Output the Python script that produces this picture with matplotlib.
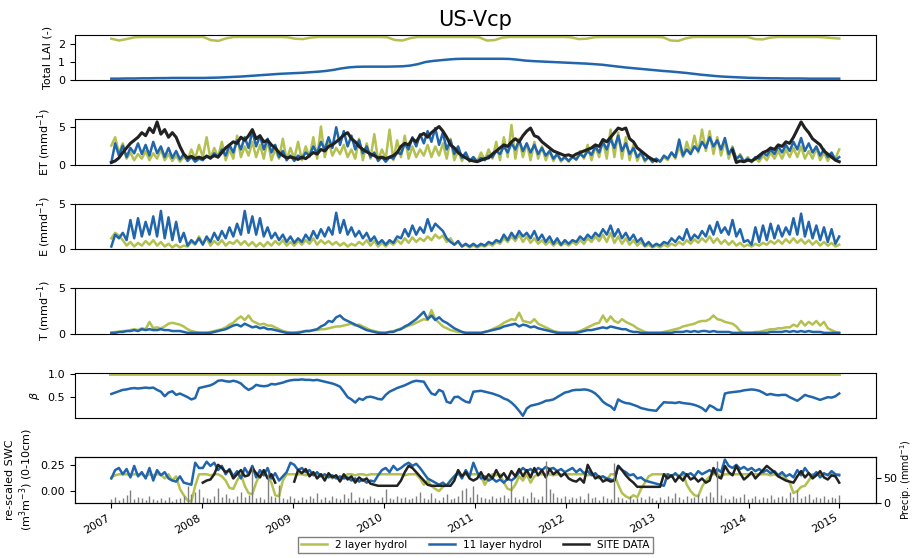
import numpy as np
import pandas as pd
import matplotlib
matplotlib.use("Agg")
import matplotlib.pyplot as plt
import matplotlib.dates as mdates

nan = np.nan

# monthly LAI, Jan 2007 - Dec 2014
lai_2layer = [
    2.32, 2.22, 2.30, 2.40, 2.42, 2.42, 2.42, 2.42, 2.42, 2.42, 2.42, 2.42,
    2.42, 2.24, 2.20, 2.34, 2.42, 2.42, 2.42, 2.42, 2.42, 2.42, 2.42, 2.40,
    2.32, 2.30, 2.38, 2.42, 2.42, 2.42, 2.42, 2.42, 2.42, 2.42, 2.42, 2.42,
    2.40, 2.25, 2.22, 2.35, 2.42, 2.42, 2.42, 2.42, 2.42, 2.42, 2.42, 2.42,
    2.40, 2.22, 2.24, 2.38, 2.42, 2.42, 2.42, 2.42, 2.42, 2.42, 2.42, 2.42,
    2.40, 2.30, 2.32, 2.40, 2.42, 2.42, 2.42, 2.42, 2.42, 2.42, 2.42, 2.42,
    2.40, 2.22, 2.20, 2.34, 2.42, 2.42, 2.42, 2.42, 2.42, 2.42, 2.42, 2.42,
    2.30, 2.28, 2.38, 2.42, 2.42, 2.42, 2.42, 2.42, 2.42, 2.40, 2.36, 2.33,
]
lai_11layer = [
    0.09, 0.09, 0.10, 0.10, 0.11, 0.11, 0.12, 0.12, 0.13, 0.13, 0.13, 0.13,
    0.13, 0.14, 0.15, 0.17, 0.19, 0.21, 0.24, 0.27, 0.30, 0.33, 0.36, 0.38,
    0.40, 0.42, 0.45, 0.48, 0.52, 0.58, 0.66, 0.72, 0.75, 0.76, 0.76, 0.76,
    0.76, 0.77, 0.78, 0.82, 0.90, 1.02, 1.08, 1.12, 1.16, 1.19, 1.20, 1.20,
    1.20, 1.20, 1.20, 1.20, 1.19, 1.15, 1.10, 1.07, 1.05, 1.03, 1.01, 0.99,
    0.97, 0.95, 0.93, 0.90, 0.87, 0.82, 0.77, 0.72, 0.68, 0.64, 0.60, 0.56,
    0.52, 0.49, 0.45, 0.41, 0.36, 0.31, 0.27, 0.23, 0.20, 0.18, 0.16, 0.14,
    0.13, 0.12, 0.11, 0.11, 0.10, 0.10, 0.10, 0.09, 0.09, 0.09, 0.09, 0.09,
]

# half-monthly values, 2007 - 2014 (24 per year)
et_2layer = [
    2.5, 3.6, 1.5, 2.8, 0.8, 1.6, 0.6, 1.4, 0.8, 1.8, 0.6, 1.5, 0.8, 2.0, 0.6, 1.4, 0.5, 1.2, 0.4, 1.0, 0.6, 2.0, 0.8, 2.6,
    1.0, 3.6, 0.8, 2.2, 1.0, 3.0, 0.6, 2.0, 0.8, 3.8, 1.0, 2.4, 1.2, 3.0, 1.0, 2.6, 0.8, 3.2, 0.6, 2.0, 0.8, 3.4, 0.6, 2.2,
    0.8, 3.0, 0.6, 2.4, 1.0, 3.6, 0.8, 5.0, 1.0, 3.0, 1.2, 2.2, 1.4, 2.6, 1.0, 2.0, 0.8, 3.4, 0.6, 2.8, 0.8, 4.0, 0.6, 2.0,
    0.8, 4.6, 0.6, 3.2, 1.0, 3.8, 0.8, 2.4, 1.0, 2.0, 1.2, 2.6, 1.0, 2.4, 1.2, 2.8, 0.8, 3.4, 0.6, 1.8, 0.5, 1.4, 0.4, 1.0,
    0.4, 1.6, 0.6, 2.0, 0.8, 3.0, 0.6, 3.6, 1.0, 5.2, 0.8, 3.4, 1.0, 2.8, 0.6, 3.0, 0.8, 2.4, 0.6, 1.8, 0.5, 1.4, 0.4, 1.0,
    0.4, 1.2, 0.6, 1.8, 0.8, 2.6, 0.6, 2.4, 1.0, 3.2, 0.8, 4.6, 1.0, 4.2, 0.8, 3.6, 0.6, 2.6, 0.5, 1.6, 0.4, 1.0, 0.3, 0.8,
    0.4, 1.0, 0.6, 1.6, 0.8, 2.4, 1.0, 3.0, 1.4, 3.8, 1.6, 4.6, 1.8, 4.4, 1.4, 3.6, 1.2, 3.2, 0.8, 2.4, 0.5, 1.4, 0.4, 1.0,
    0.3, 0.8, 0.4, 1.2, 0.6, 1.6, 0.8, 1.8, 0.8, 2.0, 1.0, 2.2, 1.0, 2.4, 0.8, 1.8, 0.8, 2.2, 0.6, 1.6, 0.5, 1.4, 0.8, 2.0,
]
et_11layer = [
    0.3, 2.8, 1.2, 2.5, 1.0, 2.2, 1.5, 2.8, 1.4, 2.6, 1.2, 3.0, 1.5, 2.4, 1.0, 2.2, 0.9, 1.8, 0.7, 1.4, 0.5, 1.0, 0.4, 0.8,
    0.6, 1.2, 0.8, 1.5, 1.0, 2.0, 1.2, 2.6, 1.6, 3.2, 2.0, 3.6, 2.2, 4.4, 2.4, 3.8, 2.0, 3.4, 1.6, 2.6, 1.0, 1.8, 0.6, 1.2,
    0.5, 1.2, 0.8, 1.6, 1.2, 2.4, 1.5, 3.0, 2.0, 3.6, 2.2, 4.9, 2.6, 4.4, 2.4, 3.8, 2.0, 3.2, 1.5, 2.4, 1.0, 1.6, 0.5, 1.0,
    0.4, 1.0, 0.8, 1.6, 1.4, 2.8, 2.0, 3.6, 2.4, 4.0, 2.8, 4.4, 3.0, 4.8, 2.6, 4.2, 2.0, 3.2, 1.4, 2.4, 0.9, 1.6, 0.5, 1.0,
    0.4, 0.9, 0.6, 1.2, 1.0, 1.8, 1.4, 2.4, 1.6, 2.8, 2.0, 3.2, 1.8, 2.8, 1.6, 2.6, 1.4, 2.2, 1.2, 1.8, 0.8, 1.4, 0.6, 1.0,
    0.5, 1.0, 0.7, 1.4, 1.0, 1.8, 1.3, 2.4, 1.6, 3.0, 2.0, 3.4, 2.2, 3.8, 1.8, 2.8, 1.4, 2.2, 1.0, 1.6, 0.6, 1.0, 0.4, 0.8,
    0.4, 1.2, 0.8, 1.6, 1.0, 3.3, 1.2, 2.0, 1.4, 2.4, 1.8, 3.0, 2.2, 3.6, 2.4, 3.2, 2.0, 3.5, 1.4, 2.2, 0.8, 1.2, 0.4, 0.8,
    0.4, 1.0, 0.8, 1.6, 1.2, 2.0, 1.4, 2.4, 1.6, 2.6, 1.8, 3.0, 2.0, 3.5, 1.8, 2.8, 1.6, 2.4, 1.2, 2.0, 1.0, 1.6, 0.6, 1.0,
]
et_site = [
    0.3, 0.5, 0.9, 1.6, 2.2, 2.8, 3.2, 3.6, 4.2, 3.8, 4.8, 4.2, 5.6, 4.0, 4.6, 3.6, 4.2, 3.6, 2.4, 1.4, 0.9, 1.1, 0.8, 1.0,
    0.8, 1.1, 0.9, 1.2, 1.0, 1.6, 2.2, 2.6, 3.0, 2.8, 3.6, 3.2, 3.8, 4.6, 3.4, 3.8, 3.0, 3.2, 2.6, 2.2, 1.6, 1.2, 0.9, 1.0,
    0.9, 0.7, 1.0, 0.8, 1.2, 1.6, 1.4, 2.0, 1.8, 2.4, 2.6, 3.0, 3.4, 3.9, 4.2, 3.4, 3.0, 2.4, 2.0, 1.7, 1.4, 1.2, 0.9, 1.0,
    0.8, 1.0, 1.2, 1.6, 2.4, 2.8, 2.6, 3.4, 3.0, 3.8, 4.1, 3.6, 4.2, 4.6, 5.0, 4.4, 3.6, 2.6, 2.2, 1.6, 1.2, 0.9, 0.6, 0.5,
    0.4, 0.6, 0.8, 0.9, 1.4, 1.8, 2.2, 2.6, 2.4, 3.0, 3.4, 3.0, 3.8, 4.4, 4.8, 3.8, 3.6, 3.0, 2.6, 2.2, 1.8, 1.6, 1.4, 1.2,
    1.3, 1.1, 1.4, 1.6, 1.8, 2.0, 2.2, 2.6, 2.4, 3.3, 3.0, 3.6, 4.2, 4.8, 4.6, 4.8, 3.4, 3.0, 2.2, 1.8, 1.4, 1.0, 0.7, 0.5,
    nan, nan, nan, nan, nan, nan, nan, nan, nan, nan, nan, nan, nan, nan, nan, nan, nan, nan, nan, 1.9, 0.3, 0.5, 0.4, 0.6,
    0.5, 0.8, 1.2, 1.6, 1.8, 2.2, 2.0, 2.6, 2.4, 3.0, 2.8, 3.6, 4.6, 5.6, 4.8, 4.2, 3.4, 3.0, 2.6, 1.8, 1.4, 1.0, 0.6, 0.4,
]
e_2layer = [
    1.2, 1.8, 1.5, 1.0, 0.4, 0.8, 0.3, 0.7, 0.4, 0.9, 0.5, 1.0, 0.4, 0.8, 0.3, 0.6, 0.2, 0.5, 0.2, 0.4, 0.3, 0.8, 0.5, 1.4,
    0.6, 1.2, 0.4, 0.9, 0.5, 1.0, 0.4, 0.8, 0.6, 1.0, 0.5, 0.9, 0.4, 0.8, 0.3, 0.7, 0.3, 0.8, 0.4, 0.9, 0.5, 1.0, 0.4, 0.8,
    0.4, 0.9, 0.5, 1.0, 0.6, 1.2, 0.5, 1.0, 0.6, 0.9, 0.5, 0.8, 0.4, 0.7, 0.3, 0.6, 0.4, 0.8, 0.5, 1.0, 0.4, 0.9, 0.3, 0.7,
    0.3, 0.8, 0.5, 1.0, 0.6, 1.2, 0.7, 1.3, 0.8, 1.2, 0.9, 1.4, 1.0, 1.6, 1.2, 1.5, 0.8, 1.2, 0.5, 0.8, 0.3, 0.5, 0.2, 0.4,
    0.2, 0.4, 0.3, 0.6, 0.4, 0.8, 0.6, 1.2, 0.8, 1.4, 0.9, 1.6, 0.8, 1.4, 0.7, 1.2, 0.6, 1.0, 0.5, 0.9, 0.4, 0.8, 0.4, 0.7,
    0.4, 0.8, 0.5, 1.0, 0.6, 1.2, 0.8, 1.4, 0.9, 1.6, 0.8, 1.8, 0.7, 1.4, 0.6, 1.2, 0.5, 1.0, 0.4, 0.8, 0.3, 0.5, 0.2, 0.4,
    0.2, 0.5, 0.3, 0.6, 0.4, 0.8, 0.5, 1.0, 0.6, 1.1, 0.7, 1.2, 0.8, 1.4, 0.7, 1.2, 0.6, 1.0, 0.5, 0.9, 0.4, 0.7, 0.3, 0.5,
    0.3, 0.6, 0.4, 0.7, 0.5, 0.9, 0.6, 1.0, 0.6, 1.1, 0.7, 1.2, 0.7, 1.1, 0.6, 1.0, 0.5, 0.9, 0.4, 0.8, 0.4, 0.7, 0.3, 0.5,
]
e_11layer = [
    0.3, 1.6, 1.2, 1.8, 1.0, 3.2, 1.2, 3.4, 1.4, 3.0, 1.6, 3.6, 1.4, 4.2, 1.2, 3.5, 1.0, 3.0, 0.8, 1.8, 0.4, 1.0, 0.6, 1.2,
    0.5, 1.4, 0.8, 1.8, 1.0, 2.0, 1.2, 2.4, 1.4, 2.8, 1.6, 4.2, 1.8, 3.6, 1.6, 3.4, 1.4, 2.4, 1.2, 1.8, 1.0, 1.6, 0.8, 1.4,
    0.7, 1.2, 0.8, 1.6, 1.0, 2.0, 1.2, 2.2, 1.4, 2.4, 1.6, 4.0, 1.8, 3.2, 1.6, 2.4, 1.4, 2.0, 1.2, 1.8, 0.9, 1.4, 0.6, 1.0,
    0.5, 1.0, 0.7, 1.4, 1.2, 2.2, 1.4, 2.6, 1.6, 2.4, 1.8, 3.3, 2.0, 2.8, 2.4, 2.0, 1.2, 0.8, 0.5, 0.9, 0.3, 0.6, 0.3, 0.6,
    0.3, 0.6, 0.4, 0.8, 0.6, 1.0, 0.8, 1.6, 1.0, 1.8, 1.2, 2.0, 1.4, 1.8, 1.2, 2.0, 1.0, 1.6, 0.8, 1.4, 0.6, 1.2, 0.5, 1.0,
    0.6, 1.0, 0.8, 1.4, 1.0, 1.6, 1.2, 1.8, 1.4, 2.2, 1.6, 2.6, 1.4, 2.2, 1.2, 1.8, 1.0, 1.6, 0.8, 1.2, 0.4, 0.8, 0.3, 0.6,
    0.4, 0.8, 0.6, 1.2, 0.8, 1.4, 1.0, 2.2, 1.0, 1.6, 1.2, 2.0, 1.4, 2.6, 1.6, 3.0, 1.8, 2.4, 1.6, 3.2, 1.4, 2.2, 0.8, 1.0,
    0.5, 2.4, 0.8, 2.6, 1.0, 2.8, 1.2, 2.6, 1.4, 2.4, 1.6, 3.4, 1.6, 3.9, 1.4, 3.0, 1.2, 2.6, 1.0, 2.4, 0.8, 2.2, 0.6, 1.4,
]
t_2layer = [
    0.1, 0.2, 0.2, 0.3, 0.3, 0.4, 0.5, 0.4, 0.6, 0.5, 1.3, 0.6, 0.7, 0.6, 0.8, 1.1, 1.2, 1.1, 1.0, 0.8, 0.5, 0.3, 0.2, 0.1,
    0.1, 0.1, 0.2, 0.3, 0.4, 0.5, 0.7, 1.0, 1.2, 1.6, 1.9, 1.5, 2.0, 1.4, 1.2, 1.0, 1.1, 0.9, 0.9, 0.7, 0.5, 0.3, 0.2, 0.1,
    0.1, 0.2, 0.2, 0.3, 0.3, 0.4, 0.4, 0.5, 0.5, 0.6, 0.7, 0.8, 0.8, 0.9, 1.0, 1.1, 0.9, 1.0, 0.8, 0.6, 0.4, 0.3, 0.2, 0.1,
    0.1, 0.2, 0.3, 0.4, 0.6, 0.7, 0.9, 1.0, 1.2, 1.4, 1.6, 1.5, 2.6, 1.6, 1.2, 0.8, 0.6, 0.4, 0.3, 0.2, 0.2, 0.1, 0.1, 0.1,
    0.1, 0.1, 0.2, 0.3, 0.5, 0.7, 0.9, 1.2, 1.4, 1.6, 1.5, 2.3, 1.4, 1.3, 1.2, 1.6, 1.1, 0.9, 0.7, 0.5, 0.3, 0.2, 0.1, 0.1,
    0.1, 0.1, 0.2, 0.3, 0.5, 0.7, 0.9, 1.1, 1.2, 2.0, 1.3, 1.9, 1.4, 1.2, 1.6, 1.3, 1.1, 0.9, 0.6, 0.4, 0.2, 0.1, 0.1, 0.1,
    0.1, 0.2, 0.3, 0.4, 0.5, 0.6, 0.8, 0.9, 1.0, 1.1, 1.3, 1.4, 1.4, 1.6, 2.0, 1.6, 1.5, 1.3, 1.2, 1.1, 0.8, 0.3, 0.1, 0.1,
    0.1, 0.2, 0.2, 0.3, 0.4, 0.5, 0.5, 0.6, 0.6, 0.7, 0.7, 1.0, 0.8, 1.4, 0.9, 1.3, 1.0, 1.4, 0.9, 1.3, 0.6, 0.4, 0.2, 0.1,
]
t_11layer = [
    0.1, 0.1, 0.2, 0.2, 0.3, 0.3, 0.4, 0.3, 0.5, 0.4, 0.5, 0.4, 0.4, 0.5, 0.4, 0.4, 0.3, 0.3, 0.3, 0.2, 0.1, 0.1, 0.1, 0.1,
    0.1, 0.1, 0.1, 0.2, 0.3, 0.4, 0.5, 0.7, 0.9, 1.0, 0.8, 1.1, 0.9, 0.7, 0.8, 0.6, 0.7, 0.5, 0.5, 0.4, 0.3, 0.2, 0.1, 0.1,
    0.1, 0.1, 0.2, 0.3, 0.3, 0.4, 0.5, 0.8, 1.0, 1.4, 1.3, 1.8, 2.0, 1.6, 1.4, 1.2, 1.0, 0.8, 0.6, 0.4, 0.3, 0.2, 0.1, 0.1,
    0.1, 0.2, 0.2, 0.4, 0.5, 0.8, 1.0, 1.3, 1.6, 2.0, 2.4, 1.6, 2.0, 1.5, 1.8, 1.4, 1.2, 0.9, 0.6, 0.4, 0.2, 0.1, 0.1, 0.1,
    0.1, 0.1, 0.2, 0.3, 0.4, 0.5, 0.6, 0.8, 0.9, 1.0, 1.1, 0.8, 1.0, 0.9, 0.7, 0.8, 0.6, 0.5, 0.4, 0.3, 0.2, 0.1, 0.1, 0.1,
    0.1, 0.1, 0.1, 0.2, 0.3, 0.4, 0.4, 0.5, 0.6, 0.7, 0.6, 0.8, 0.7, 0.6, 0.5, 0.5, 0.3, 0.2, 0.2, 0.1, 0.1, 0.1, 0.1, 0.1,
    0.1, 0.1, 0.1, 0.1, 0.2, 0.2, 0.2, 0.3, 0.2, 0.3, 0.2, 0.3, 0.3, 0.2, 0.3, 0.2, 0.2, 0.2, 0.2, 0.1, 0.1, 0.1, 0.1, 0.1,
    0.1, 0.1, 0.1, 0.1, 0.1, 0.2, 0.2, 0.2, 0.2, 0.3, 0.2, 0.3, 0.2, 0.3, 0.2, 0.3, 0.2, 0.2, 0.2, 0.1, 0.1, 0.1, 0.1, 0.1,
]
beta_11layer = [
    0.57, 0.60, 0.63, 0.66, 0.67, 0.69, 0.70, 0.69, 0.70, 0.71, 0.70, 0.71, 0.66, 0.62, 0.52, 0.60, 0.63, 0.55, 0.58, 0.54, 0.50, 0.45, 0.48, 0.70,
    0.72, 0.74, 0.76, 0.80, 0.86, 0.87, 0.85, 0.84, 0.86, 0.84, 0.80, 0.72, 0.66, 0.70, 0.77, 0.75, 0.74, 0.75, 0.79, 0.78, 0.80, 0.82, 0.85, 0.87,
    0.88, 0.88, 0.89, 0.88, 0.88, 0.87, 0.88, 0.86, 0.84, 0.82, 0.80, 0.77, 0.73, 0.62, 0.50, 0.45, 0.38, 0.47, 0.44, 0.50, 0.51, 0.49, 0.46, 0.45,
    0.55, 0.62, 0.66, 0.70, 0.73, 0.76, 0.80, 0.84, 0.86, 0.85, 0.84, 0.70, 0.58, 0.55, 0.66, 0.62, 0.40, 0.37, 0.50, 0.51, 0.45, 0.40, 0.38, 0.62,
    0.63, 0.64, 0.62, 0.60, 0.58, 0.55, 0.52, 0.47, 0.44, 0.38, 0.30, 0.20, 0.09, 0.25, 0.31, 0.33, 0.35, 0.38, 0.42, 0.43, 0.45, 0.50, 0.55, 0.60,
    0.62, 0.65, 0.66, 0.66, 0.67, 0.66, 0.63, 0.58, 0.50, 0.40, 0.34, 0.30, 0.22, 0.45, 0.40, 0.37, 0.36, 0.33, 0.30, 0.26, 0.24, 0.22, 0.21, 0.20,
    0.30, 0.39, 0.38, 0.38, 0.37, 0.39, 0.37, 0.36, 0.35, 0.33, 0.30, 0.26, 0.19, 0.32, 0.28, 0.22, 0.22, 0.58, 0.60, 0.61, 0.62, 0.63, 0.65, 0.66,
    0.67, 0.66, 0.64, 0.60, 0.55, 0.57, 0.55, 0.54, 0.55, 0.55, 0.50, 0.46, 0.42, 0.48, 0.55, 0.52, 0.50, 0.47, 0.44, 0.47, 0.50, 0.49, 0.52, 0.58,
]
beta_2layer = [1.0] * 192
swc_2layer = [
    0.13, 0.15, 0.16, 0.16, 0.16, 0.15, 0.16, 0.16, 0.16, 0.14, 0.16, 0.15, 0.16, 0.16, 0.12, 0.16, 0.10, 0.14, 0.02, -0.04, -0.09, -0.10, 0.05, 0.16,
    0.16, 0.16, 0.15, 0.16, 0.16, 0.14, 0.10, 0.03, 0.02, 0.10, 0.16, 0.05, -0.02, -0.03, 0.08, 0.16, 0.16, 0.14, 0.08, -0.04, -0.05, 0.10, 0.16, 0.16,
    0.16, 0.16, 0.16, 0.15, 0.16, 0.16, 0.15, 0.16, 0.14, 0.16, 0.12, 0.15, 0.10, 0.14, 0.16, 0.16, 0.15, 0.16, 0.16, 0.15, 0.16, 0.16, 0.16, 0.16,
    0.16, 0.16, 0.16, 0.16, 0.16, 0.15, 0.16, 0.16, 0.16, 0.12, 0.06, 0.10, 0.05, 0.02, 0.00, 0.04, 0.06, 0.10, 0.14, 0.16, 0.15, 0.16, 0.16, 0.16,
    0.16, 0.14, 0.06, 0.12, 0.16, 0.15, 0.16, 0.08, 0.02, 0.01, 0.06, 0.14, 0.10, 0.16, 0.08, 0.14, 0.16, 0.16, 0.16, 0.16, 0.15, 0.16, 0.16, 0.16,
    0.16, 0.16, 0.16, 0.16, 0.16, 0.15, 0.16, 0.16, 0.12, 0.14, 0.10, 0.16, 0.16, 0.06, -0.02, -0.05, -0.07, -0.04, -0.06, 0.02, 0.08, 0.14, 0.16, 0.16,
    0.16, 0.16, 0.16, 0.14, 0.16, 0.15, 0.16, 0.06, 0.00, -0.04, -0.05, 0.04, 0.10, 0.14, 0.16, 0.16, 0.14, 0.16, 0.16, 0.16, 0.16, 0.16, 0.16, 0.16,
    0.16, 0.16, 0.16, 0.16, 0.16, 0.15, 0.16, 0.14, 0.16, 0.12, 0.08, -0.02, 0.00, 0.04, 0.05, 0.10, 0.16, 0.16, 0.16, 0.16, 0.16, 0.16, 0.15, 0.16,
]
swc_11layer = [
    0.12, 0.20, 0.22, 0.16, 0.21, 0.13, 0.24, 0.14, 0.18, 0.12, 0.22, 0.10, 0.20, 0.15, 0.18, 0.12, 0.10, 0.09, 0.14, 0.08, 0.07, 0.06, 0.27, 0.22,
    0.22, 0.28, 0.24, 0.27, 0.20, 0.24, 0.16, 0.21, 0.14, 0.19, 0.12, 0.22, 0.16, 0.24, 0.13, 0.20, 0.15, 0.22, 0.12, 0.17, 0.10, 0.14, 0.18, 0.27,
    0.25, 0.20, 0.22, 0.18, 0.20, 0.15, 0.18, 0.14, 0.16, 0.13, 0.15, 0.12, 0.14, 0.12, 0.13, 0.10, 0.12, 0.09, 0.11, 0.08, 0.10, 0.09, 0.15, 0.20,
    0.22, 0.18, 0.24, 0.20, 0.22, 0.25, 0.27, 0.24, 0.26, 0.22, 0.17, 0.12, 0.10, 0.08, 0.06, 0.08, 0.05, 0.10, 0.14, 0.18, 0.12, 0.20, 0.14, 0.27,
    0.18, 0.12, 0.14, 0.10, 0.12, 0.09, 0.11, 0.08, 0.12, 0.10, 0.13, 0.18, 0.22, 0.19, 0.21, 0.18, 0.22, 0.20, 0.23, 0.21, 0.22, 0.19, 0.21, 0.18,
    0.20, 0.22, 0.18, 0.21, 0.17, 0.19, 0.15, 0.17, 0.13, 0.14, 0.12, 0.11, 0.10, 0.24, 0.20, 0.18, 0.15, 0.16, 0.12, 0.13, 0.10, 0.09, 0.08, 0.07,
    0.06, 0.05, 0.16, 0.14, 0.17, 0.13, 0.18, 0.15, 0.17, 0.14, 0.19, 0.16, 0.18, 0.20, 0.17, 0.21, 0.18, 0.30, 0.24, 0.22, 0.25, 0.21, 0.23, 0.20,
    0.22, 0.19, 0.21, 0.18, 0.20, 0.17, 0.19, 0.15, 0.18, 0.14, 0.16, 0.13, 0.20, 0.15, 0.22, 0.17, 0.14, 0.18, 0.13, 0.17, 0.15, 0.19, 0.16, 0.15,
]
swc_site = [
    nan, nan, nan, nan, nan, nan, nan, nan, nan, nan, nan, nan, nan, nan, nan, nan, nan, nan, nan, nan, nan, nan, nan, nan,
    0.08, 0.10, 0.11, 0.16, 0.25, 0.22, 0.18, 0.20, 0.12, 0.16, 0.20, 0.14, 0.15, 0.22, 0.17, 0.13, 0.20, 0.12, 0.16, 0.08, nan, nan, nan, nan,
    0.09, 0.20, 0.17, 0.21, 0.14, 0.18, 0.12, 0.16, 0.10, 0.17, 0.13, 0.15, 0.09, 0.16, 0.11, 0.14, 0.08, 0.13, 0.10, 0.12, 0.07, 0.06, 0.05, 0.05,
    0.05, 0.05, 0.05, 0.05, 0.10, 0.18, 0.24, 0.22, 0.18, 0.14, 0.10, 0.06, 0.05, 0.05, 0.05, 0.05, 0.05, 0.05, 0.10, 0.20, 0.14, 0.18, 0.12, 0.10,
    0.12, 0.18, 0.11, 0.16, 0.12, 0.20, 0.13, 0.17, 0.11, 0.19, 0.14, 0.21, 0.14, 0.20, 0.13, 0.22, 0.15, 0.20, 0.13, 0.21, 0.16, 0.19, 0.14, 0.17,
    0.12, 0.10, 0.09, 0.12, 0.08, 0.25, 0.18, 0.12, 0.14, 0.09, 0.11, 0.09, 0.10, 0.24, 0.20, 0.15, 0.11, 0.08, 0.04, 0.04, 0.04, 0.04, 0.04, 0.04,
    0.04, 0.16, 0.12, 0.15, 0.09, 0.14, 0.10, 0.16, 0.11, 0.13, 0.09, 0.12, 0.08, 0.10, 0.22, 0.14, 0.12, 0.24, 0.18, 0.15, 0.24, 0.17, 0.11, 0.14,
    0.18, 0.12, 0.16, 0.20, 0.24, 0.21, 0.18, 0.14, 0.12, 0.10, 0.09, 0.08, 0.14, 0.19, 0.13, 0.17, 0.12, 0.15, 0.19, 0.13, 0.11, 0.15, 0.14, 0.08,
]
precip = [
    8, 12, 6, 10, 15, 25, 8, 12, 10, 6, 14, 8, 5, 10, 6, 12, 4, 8, 10, 14, 35, 18, 22, 28,
    12, 10, 8, 14, 30, 12, 18, 10, 8, 14, 22, 12, 16, 73, 10, 12, 8, 60, 14, 12, 36, 10, 8, 14,
    10, 6, 12, 8, 14, 10, 20, 8, 12, 6, 14, 10, 8, 18, 10, 22, 6, 12, 10, 8, 14, 10, 6, 12,
    28, 10, 8, 14, 10, 12, 8, 10, 14, 22, 10, 8, 20, 10, 6, 12, 18, 8, 10, 14, 26, 30, 12, 35,
    18, 12, 10, 8, 14, 10, 12, 16, 10, 45, 12, 8, 14, 10, 22, 12, 8, 14, 86, 28, 20, 12, 10, 14,
    8, 12, 10, 14, 8, 20, 10, 12, 6, 14, 10, 8, 80, 12, 10, 6, 14, 8, 10, 12, 8, 14, 10, 6,
    12, 8, 14, 10, 20, 12, 8, 14, 10, 12, 18, 10, 14, 22, 12, 85, 16, 10, 8, 14, 10, 12, 18, 8,
    10, 14, 8, 12, 10, 16, 8, 12, 14, 10, 22, 12, 26, 10, 14, 18, 8, 12, 10, 14, 8, 12, 10, 16,
]

dates = pd.date_range("2007-01-01", "2014-12-31", periods=len(et_site))
months = pd.date_range("2007-01-01", "2014-12-31", periods=len(lai_11layer))

green = "#b4c050"
blue = "#2166ac"
black = "#222222"
lw = 1.8

plt.rcParams["font.size"] = 8

fig, axs = plt.subplots(6, 1, figsize=(9.14, 5.58), dpi=100, sharex=True)
fig.subplots_adjust(left=0.082, right=0.958, top=0.938, bottom=0.099, hspace=0.85)

ax = axs[0]
ax.plot(months, lai_2layer, color=green, lw=lw)
ax.plot(months, lai_11layer, color=blue, lw=lw)
ax.set_ylim(0, 2.55)
ax.set_yticks([0, 1, 2])
ax.set_ylabel("Total LAI (-)")
ax.set_title("US-Vcp", fontsize=15)

ax = axs[1]
ax.plot(dates, et_2layer, color=green, lw=lw)
ax.plot(dates, et_11layer, color=blue, lw=lw)
ax.plot(dates, et_site, color=black, lw=lw + 0.4)
ax.set_ylim(0, 5.97)
ax.set_yticks([0, 5])
ax.set_ylabel("ET (mmd$^{-1}$)")

ax = axs[2]
ax.plot(dates, e_2layer, color=green, lw=lw)
ax.plot(dates, e_11layer, color=blue, lw=lw)
ax.set_ylim(0, 5)
ax.set_yticks([0, 5])
ax.set_ylabel("E (mmd$^{-1}$)")

ax = axs[3]
ax.plot(dates, t_2layer, color=green, lw=lw)
ax.plot(dates, t_11layer, color=blue, lw=lw)
ax.set_ylim(0, 5)
ax.set_yticks([0, 5])
ax.set_ylabel("T (mmd$^{-1}$)")

ax = axs[4]
ax.plot(dates, beta_2layer, color=green, lw=lw + 1)
ax.plot(dates, beta_11layer, color=blue, lw=lw)
ax.set_ylim(0.036, 1.04)
ax.set_yticks([0.5, 1.0])
ax.set_ylabel(r"$\beta$")

ax = axs[5]
l1, = ax.plot(dates, swc_2layer, color=green, lw=lw)
l2, = ax.plot(dates, swc_11layer, color=blue, lw=lw)
l3, = ax.plot(dates, swc_site, color=black, lw=lw)
ax.set_ylim(-0.112, 0.324)
ax.set_yticks([0.0, 0.25])
ax.set_ylabel("re-scaled SWC\n(m$^3$m$^{-3}$) (0-10cm)")

ax2 = ax.twinx()
ax2.vlines(dates, 0, precip, color="gray", lw=1.0)
ax2.set_ylim(0, 93)
ax2.set_yticks([0, 50])
ax2.tick_params(axis="y", pad=2)
ax2.set_ylabel("Precip. (mmd$^{-1}$)", va="center", fontsize=7)
ax2.yaxis.set_label_coords(1.0375, 0.5)

for a in axs[:-1]:
    a.tick_params(bottom=False, labelbottom=False)

axs[-1].xaxis.set_major_locator(mdates.YearLocator())
axs[-1].xaxis.set_major_formatter(mdates.DateFormatter("%Y"))
for lab in axs[-1].get_xticklabels():
    lab.set_rotation(30)
    lab.set_ha("right")

fig.legend([l1, l2, l3], ["2 layer hydrol", "11 layer hydrol", "SITE DATA"],
           loc="lower center", bbox_to_anchor=(0.52, 0.0), ncol=3, fontsize=7.5,
           fancybox=False, edgecolor="0.5", framealpha=1, borderpad=0.3,
           handlelength=2.5, columnspacing=2.0)

plt.savefig("out.png", dpi=100)
